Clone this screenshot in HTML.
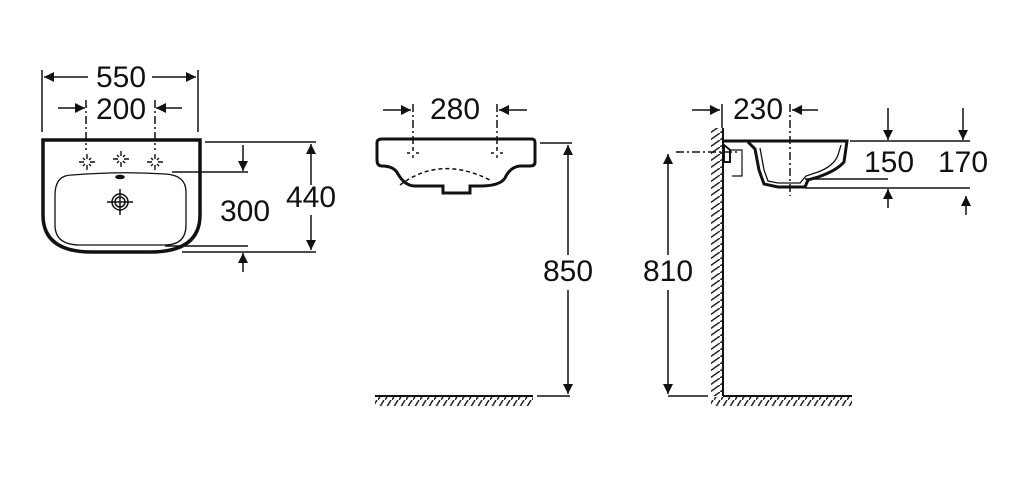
<!DOCTYPE html>
<html><head><meta charset="utf-8"><style>
html,body{margin:0;padding:0;background:#fff;}
svg{display:block}
text{font-family:"Liberation Sans",sans-serif;font-size:30px;fill:#111;text-anchor:middle}
</style></head><body>
<svg width="1024" height="484" viewBox="0 0 1024 484" xmlns="http://www.w3.org/2000/svg">
<defs>
<marker id="a" viewBox="0 0 10 10" refX="10" refY="5" markerWidth="14" markerHeight="10" markerUnits="userSpaceOnUse" orient="auto"><path d="M0,0L10,5L0,10z" fill="#111"/></marker>
<pattern id="h" width="7" height="10" patternUnits="userSpaceOnUse"><path d="M0,10L6,0" stroke="#222" stroke-width="1.5"/></pattern>
<pattern id="hv" width="10" height="7" patternUnits="userSpaceOnUse"><path d="M0,7L10,0" stroke="#222" stroke-width="1.5"/></pattern>
<g id="x" stroke="#111" stroke-width="1.4" fill="none"><path d="M-8,0h5M3,0h5M0,-8v5M0,3v5M-4,-4l2,2M4,-4l-2,2M-4,4l2,-2M4,4l-2,-2"/></g>
<g id="xs" stroke="#111" stroke-width="1.4" fill="none"><path d="M-6,0h3M3,0h3M0,-5v3M0,2v3"/></g>
</defs>
<g stroke="#111" stroke-width="1.5" fill="none">
<!-- LEFT VIEW -->
<line x1="42" y1="70" x2="42" y2="132"/><line x1="198" y1="70" x2="198" y2="132"/>
<line x1="88" y1="77" x2="44" y2="77" marker-end="url(#a)"/><line x1="152" y1="77" x2="196" y2="77" marker-end="url(#a)"/>
<line x1="58" y1="108" x2="85" y2="108" marker-end="url(#a)"/><line x1="182" y1="108" x2="156" y2="108" marker-end="url(#a)"/>
<line x1="86" y1="100" x2="86" y2="150" stroke-dasharray="8,3,2,3"/><line x1="155" y1="100" x2="155" y2="150" stroke-dasharray="8,3,2,3"/>
<path d="M43,140 H200 V215 Q200,252 150,252 H92 Q43,252 43,215 Z" stroke-width="3.5"/>
<path d="M72,175 Q55,175 55,195 V225 Q55,245 80,245 H165 Q186,245 186,225 V192 Q186,175 165,174 Q120,171 72,175 Z" stroke-width="1.3"/>
<circle cx="120" cy="202" r="8"/><circle cx="120" cy="202" r="5"/>
<line x1="107" y1="202" x2="133" y2="202"/><line x1="120" y1="189" x2="120" y2="215"/>
<ellipse cx="120" cy="177" rx="4" ry="1.5" fill="#111"/>
<use href="#x" x="87" y="162"/><use href="#x" x="121" y="159"/><use href="#x" x="155" y="162"/>
<line x1="205" y1="142" x2="316" y2="142"/>
<line x1="172" y1="172" x2="248" y2="172"/>
<line x1="243" y1="145" x2="243" y2="171" marker-end="url(#a)"/>
<line x1="165" y1="246" x2="248" y2="246"/>
<line x1="182" y1="252" x2="316" y2="252"/>
<line x1="243" y1="272" x2="243" y2="253" marker-end="url(#a)"/>
<line x1="311" y1="185" x2="311" y2="144" marker-end="url(#a)"/>
<line x1="311" y1="215" x2="311" y2="250" marker-end="url(#a)"/>
<!-- MIDDLE VIEW -->
<line x1="383" y1="110" x2="411" y2="110" marker-end="url(#a)"/><line x1="527" y1="110" x2="499" y2="110" marker-end="url(#a)"/>
<line x1="413" y1="104" x2="413" y2="150" stroke-dasharray="8,3,2,3"/><line x1="497" y1="104" x2="497" y2="150" stroke-dasharray="8,3,2,3"/>
<path d="M382,139 H532 Q535,139 535,143 V162 Q535,166 530,166 H520 Q510,167 505,178 Q500,186 480,186 H470 V193 H443 V186 H415 Q405,186 398,174 Q394,166 382,166 Q377,166 377,160 V143 Q377,139 382,139 Z" stroke-width="3"/>
<path d="M400,185 Q440,155 490,180" stroke-dasharray="4,3"/>
<use href="#xs" x="413" y="153"/><use href="#xs" x="497" y="153"/>
<line x1="540" y1="143" x2="572" y2="143"/>
<line x1="568" y1="255" x2="568" y2="145" marker-end="url(#a)"/>
<line x1="568" y1="290" x2="568" y2="394" marker-end="url(#a)"/>
<line x1="537" y1="396" x2="570" y2="396"/>
<line x1="375" y1="396" x2="533" y2="396" stroke-width="2"/>
<rect x="375" y="397" width="158" height="9" fill="url(#h)" stroke="none"/>
<!-- RIGHT VIEW -->
<line x1="692" y1="110" x2="720" y2="110" marker-end="url(#a)"/><line x1="818" y1="110" x2="792" y2="110" marker-end="url(#a)"/>
<line x1="722" y1="104" x2="722" y2="128"/>
<line x1="790" y1="104" x2="790" y2="196" stroke-dasharray="8,3,2,3"/>
<line x1="723" y1="128" x2="723" y2="396" stroke-width="2"/>
<rect x="711" y="128" width="11" height="268" fill="url(#hv)" stroke="none"/>
<line x1="723" y1="396" x2="852" y2="396" stroke-width="2"/>
<rect x="711" y="397" width="141" height="9" fill="url(#h)" stroke="none"/>
<path d="M723,141 H847 L844,162 Q836,171 818,177 L808,180 L805,187 H778 L764,184 L759,170 L755,149 L748,142" stroke-width="3"/>
<path d="M760,148 L764,170 L768,181 L778,183 H800 L806,176 L818,172 Q834,166 838,155 L841,145" stroke-width="1.3"/>
<path d="M724,145 V162 H730 V150 Z" stroke-width="2"/>
<path d="M730,150 H742 V176 H732" stroke-width="1.2"/>
<line x1="676" y1="152" x2="740" y2="152" stroke-dasharray="8,3,2,3"/>
<line x1="850" y1="141" x2="970" y2="141"/>
<line x1="805" y1="179" x2="888" y2="179"/>
<line x1="805" y1="188" x2="970" y2="188"/>
<line x1="888" y1="108" x2="888" y2="140" marker-end="url(#a)"/>
<line x1="963" y1="108" x2="963" y2="140" marker-end="url(#a)"/>
<line x1="888" y1="208" x2="888" y2="189" marker-end="url(#a)"/>
<line x1="966" y1="215" x2="966" y2="196" marker-end="url(#a)"/>
<line x1="668" y1="255" x2="668" y2="154" marker-end="url(#a)"/>
<line x1="668" y1="290" x2="668" y2="394" marker-end="url(#a)"/>
<line x1="668" y1="396" x2="708" y2="396"/>
</g>
<text x="121" y="87">550</text>
<text x="121" y="119">200</text>
<text x="245" y="221">300</text>
<text x="311" y="207">440</text>
<text x="455" y="119">280</text>
<text x="568" y="281">850</text>
<text x="758" y="119">230</text>
<text x="889" y="172">150</text>
<text x="963" y="172">170</text>
<text x="668" y="281">810</text>
</svg>
</body></html>
